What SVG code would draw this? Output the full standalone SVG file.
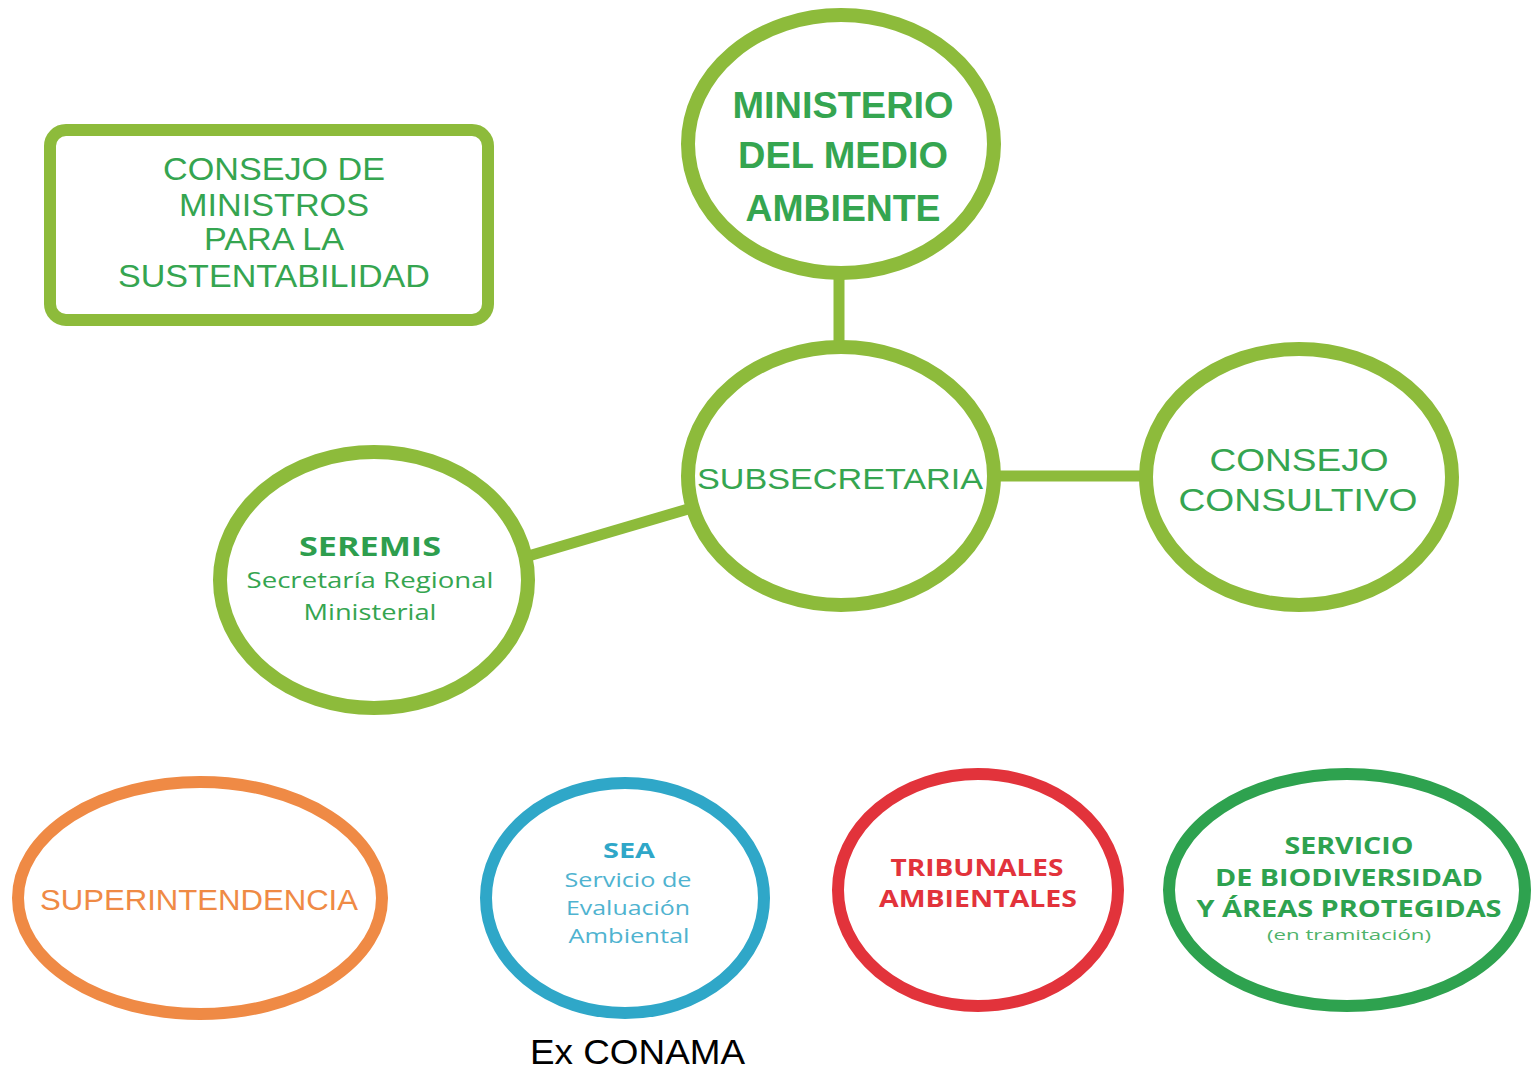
<svg xmlns="http://www.w3.org/2000/svg" width="1531" height="1069" viewBox="0 0 1531 1069">
<style>
.lg{fill:#fff;stroke:#8dbb3b;stroke-width:14}
.conn{stroke:#8dbb3b;stroke-width:11;fill:none}
.t{font-family:"Liberation Sans",Arial,sans-serif;text-anchor:middle;fill:#35a550}
.o{font-family:"Open Sans","Liberation Sans",sans-serif;text-anchor:middle}
.b{font-weight:bold}
</style>
<rect width="1531" height="1069" fill="#fff"/>
<g id="connectors">
<line class="conn" x1="839" y1="270" x2="839" y2="350"/>
<line class="conn" x1="990" y1="476" x2="1150" y2="476"/>
<line class="conn" x1="525" y1="557" x2="695" y2="507"/>
</g>
<g id="consejo-ministros">
<rect x="50" y="130" width="438" height="190" rx="16" fill="#fff" stroke="#8dbb3b" stroke-width="12"/>
<text class="t" font-size="31" x="274" y="180" textLength="222" lengthAdjust="spacingAndGlyphs">CONSEJO DE</text>
<text class="t" font-size="31" x="274" y="216" textLength="190" lengthAdjust="spacingAndGlyphs">MINISTROS</text>
<text class="t" font-size="31" x="274" y="250" textLength="140" lengthAdjust="spacingAndGlyphs">PARA LA</text>
<text class="t" font-size="31" x="274" y="287" textLength="312" lengthAdjust="spacingAndGlyphs">SUSTENTABILIDAD</text>
</g>
<g id="ministerio">
<ellipse class="lg" cx="841" cy="144" rx="153" ry="129"/>
<text class="t b" font-size="36" x="843" y="118" textLength="221" lengthAdjust="spacingAndGlyphs">MINISTERIO</text>
<text class="t b" font-size="36" x="843" y="168" textLength="210" lengthAdjust="spacingAndGlyphs">DEL MEDIO</text>
<text class="t b" font-size="36" x="843" y="221" textLength="195" lengthAdjust="spacingAndGlyphs">AMBIENTE</text>
</g>
<g id="subsecretaria">
<ellipse class="lg" cx="841" cy="476" rx="153" ry="129"/>
<text class="t" font-size="30" x="840" y="489" textLength="286" lengthAdjust="spacingAndGlyphs">SUBSECRETARIA</text>
</g>
<g id="consejo-consultivo">
<ellipse class="lg" cx="1299" cy="477" rx="153" ry="128"/>
<text class="t" font-size="32" x="1299" y="471" textLength="179" lengthAdjust="spacingAndGlyphs">CONSEJO</text>
<text class="t" font-size="32" x="1298" y="511" textLength="239" lengthAdjust="spacingAndGlyphs">CONSULTIVO</text>
</g>
<g id="seremis">
<ellipse class="lg" cx="374" cy="580" rx="154" ry="128"/>
<text class="o b" fill="#2e9e4e" font-size="26" x="370" y="556" textLength="142" lengthAdjust="spacingAndGlyphs">SEREMIS</text>
<text class="o" fill="#35a550" font-size="21" x="370" y="588" textLength="247" lengthAdjust="spacingAndGlyphs">Secretaría Regional</text>
<text class="o" fill="#35a550" font-size="21" x="370" y="620" textLength="133" lengthAdjust="spacingAndGlyphs">Ministerial</text>
</g>
<g id="superintendencia">
<ellipse cx="200" cy="898" rx="182" ry="116" fill="#fff" stroke="#ef8a45" stroke-width="12"/>
<text class="t" style="fill:#ef8a45" font-size="30" x="199" y="910" textLength="318" lengthAdjust="spacingAndGlyphs">SUPERINTENDENCIA</text>
</g>
<g id="sea">
<ellipse cx="625" cy="898" rx="139" ry="115" fill="#fff" stroke="#2fa7c8" stroke-width="12"/>
<text class="o b" fill="#2fa7c8" font-size="21" x="629" y="858" textLength="52" lengthAdjust="spacingAndGlyphs">SEA</text>
<text class="o" fill="#4fb3d0" font-size="20" x="628" y="887" textLength="127" lengthAdjust="spacingAndGlyphs">Servicio de</text>
<text class="o" fill="#4fb3d0" font-size="20" x="628" y="915" textLength="124" lengthAdjust="spacingAndGlyphs">Evaluación</text>
<text class="o" fill="#4fb3d0" font-size="20" x="629" y="943" textLength="121" lengthAdjust="spacingAndGlyphs">Ambiental</text>
</g>
<g id="tribunales">
<ellipse cx="978" cy="890" rx="140" ry="116" fill="#fff" stroke="#e2333b" stroke-width="12"/>
<text class="o b" fill="#e2333b" font-size="23" x="977" y="876" textLength="173" lengthAdjust="spacingAndGlyphs">TRIBUNALES</text>
<text class="o b" fill="#e2333b" font-size="23" x="978" y="907" textLength="198" lengthAdjust="spacingAndGlyphs">AMBIENTALES</text>
</g>
<g id="servicio-biodiversidad">
<ellipse cx="1347" cy="890" rx="178" ry="116" fill="#fff" stroke="#2ea24f" stroke-width="12"/>
<text class="o b" fill="#2ea24f" font-size="23" x="1349" y="854" textLength="129" lengthAdjust="spacingAndGlyphs">SERVICIO</text>
<text class="o b" fill="#2ea24f" font-size="23" x="1349" y="886" textLength="268" lengthAdjust="spacingAndGlyphs">DE BIODIVERSIDAD</text>
<text class="o b" fill="#2ea24f" font-size="23" x="1349" y="917" textLength="305" lengthAdjust="spacingAndGlyphs">Y ÁREAS PROTEGIDAS</text>
<text class="o" fill="#4fb36a" font-size="15" x="1349" y="940" textLength="164" lengthAdjust="spacingAndGlyphs">(en tramitación)</text>
</g>
<g id="ex-conama">
<text font-family="Liberation Sans, Arial, sans-serif" font-size="35" fill="#000" x="530" y="1064" textLength="215" lengthAdjust="spacingAndGlyphs">Ex CONAMA</text>
</g>
</svg>
